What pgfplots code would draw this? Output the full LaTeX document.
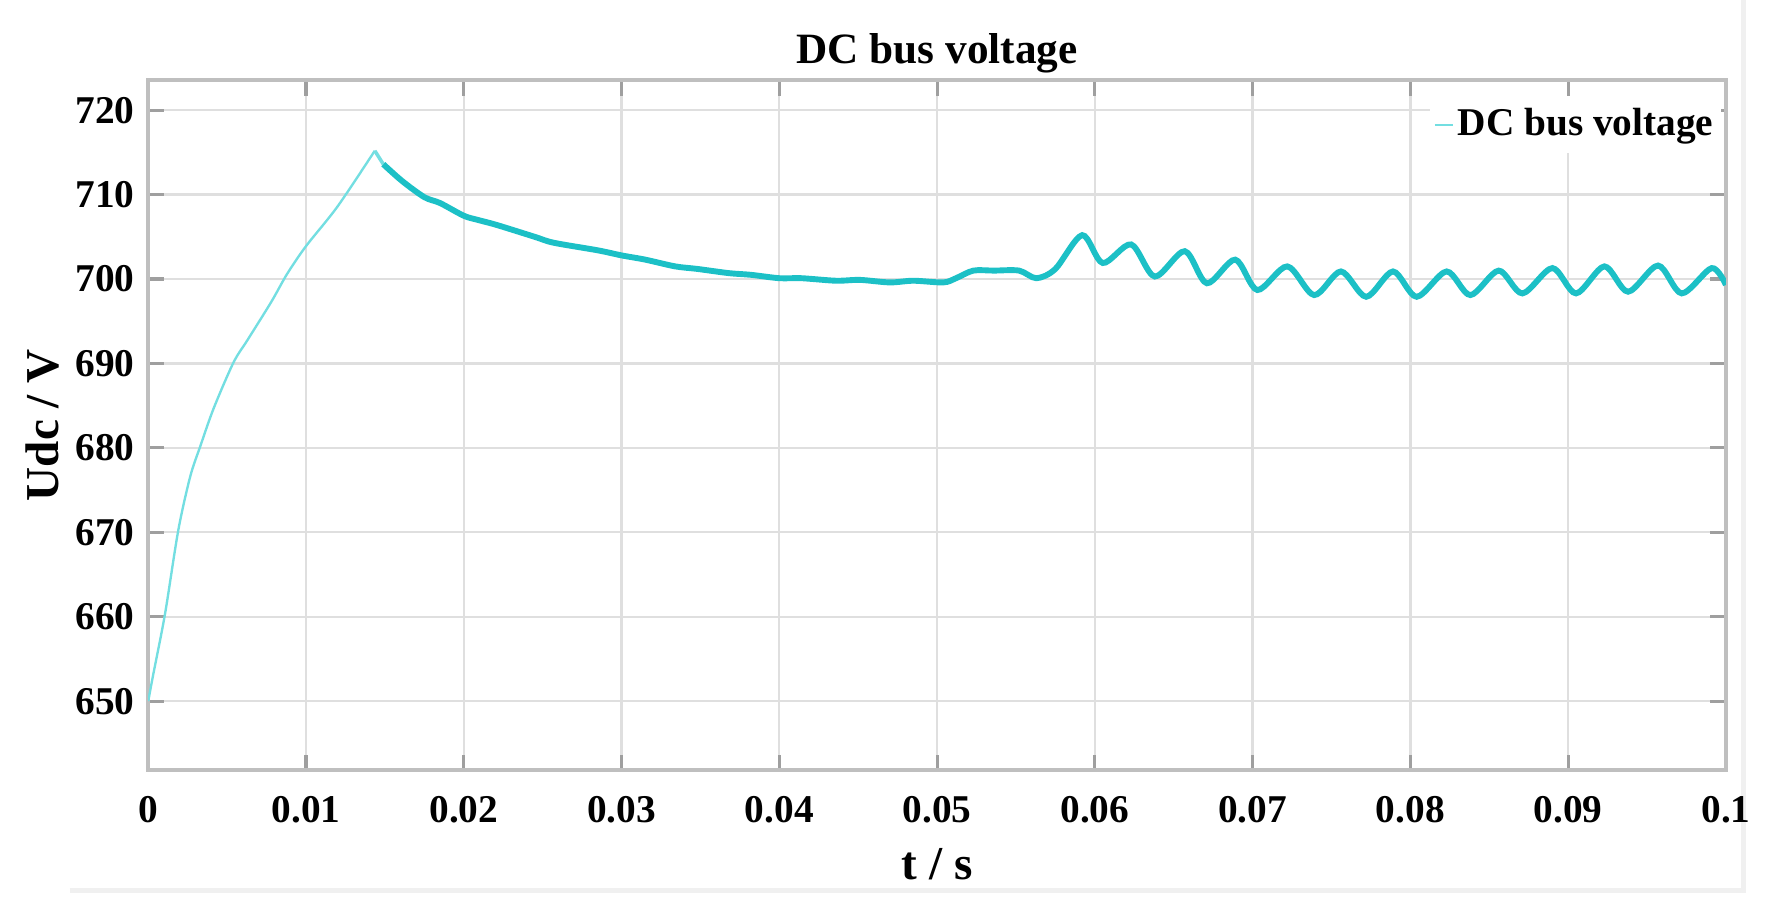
\documentclass[border=0pt]{standalone}
\usepackage{fontspec}
\setmainfont{Liberation Serif}
\usepackage{pgfplots}
\pgfplotsset{compat=1.18}
\definecolor{udcthin}{RGB}{115,222,225}
\definecolor{udc}{RGB}{28,192,198}

\begin{document}
\begin{tikzpicture}
\useasboundingbox (-37.7pt,-35.4pt) rectangle (417.5pt,195.9pt);
% faint frame of the original screenshot
\draw[gray!12, line width=1.2pt] (-20pt,-30.5pt) -- (405.6pt,-30.5pt) -- (405.6pt,195.9pt);
\begin{axis}[
  scale only axis, width=401.2pt, height=175.6pt,
  xmin=0, xmax=0.1, ymin=641.8, ymax=723.6,
  xtick={0,0.01,0.02,0.03,0.04,0.05,0.06,0.07,0.08,0.09,0.1},
  xticklabels={0,0.01,0.02,0.03,0.04,0.05,0.06,0.07,0.08,0.09,0.1},
  scaled x ticks=false,
  ytick={650,660,670,680,690,700,710,720},
  grid=major, major grid style={gray!25, line width=0.6pt},
  axis line style={gray!50, line width=1pt},
  tick style={gray!75, line width=0.8pt}, major tick length=4pt,
  tick align=inside,
  /pgf/number format/assume math mode=true,
  tick label style={font=\fontsize{10}{12}\selectfont\bfseries},
  xticklabel style={yshift=-3pt},
  title={DC bus voltage},
  every axis title shift=0pt,
  title style={at={(axis description cs:0.5,1)}, anchor=south,
    font=\fontsize{11}{13}\selectfont\bfseries, inner sep=2pt, yshift=-0.5pt},
  xlabel={t / s}, ylabel={Udc / V},
  label style={font=\fontsize{12}{14}\selectfont\bfseries},
  xlabel style={at={(axis description cs:0.5,-0.136)}, anchor=center},
  ylabel style={at={(axis description cs:-0.0673,0.5)}, anchor=center},
  legend style={at={(axis description cs:1,1)}, anchor=north east,
    xshift=-1pt, yshift=-4pt, draw=none, fill=white,
    font=\fontsize{10}{12}\selectfont\bfseries, inner sep=1pt,
    nodes={inner xsep=1pt}},
  legend image code/.code={\draw[#1] (0pt,0pt) -- (4.5pt,0pt);},
]
\addplot[udcthin, line width=0.6pt, smooth] coordinates {
  (0,650) (0.0003,653) (0.00106,660.3) (0.0019,670.2) (0.00266,676.6)
  (0.0033,680.2) (0.00415,684.7) (0.0054,690.1) (0.0063,692.8)
  (0.0078,697.3) (0.0088,700.6) (0.01,703.9) (0.012,708.6)
  (0.01436,715.2)
};
\addlegendentry{DC bus voltage}
\addplot[udcthin, line width=0.9pt, forget plot] coordinates {
  (0.01436,715.2) (0.0149,713.6)
};
\addplot[udc, line width=1.5pt, smooth, forget plot] coordinates {
  (0.0149,713.6) (0.0161,711.6) (0.0175,709.7) (0.0185,709.0) (0.020,707.5)
  (0.0209,707.0) (0.0221,706.4) (0.0245,705.0) (0.0257,704.3) (0.0285,703.4)
  (0.030,702.8) (0.0315,702.3) (0.0334,701.5) (0.0348,701.2) (0.0368,700.7)
  (0.0382,700.5) (0.040,700.1) (0.0414,700.1) (0.0436,699.8) (0.0451,699.9)
  (0.047,699.6) (0.0485,699.8) (0.0504,699.6) (0.0512,700.1) (0.0523,701.0)
  (0.0536,701.0) (0.0552,701.0) (0.0563,700.1) (0.0575,701.2) (0.0592,705.2)
  (0.0605,701.9) (0.0623,704.1) (0.0638,700.3) (0.0657,703.3) (0.0671,699.5)
  (0.0689,702.3) (0.0703,698.7) (0.0722,701.5) (0.0739,698.1) (0.0756,700.9)
  (0.0772,697.9) (0.0789,700.9) (0.0804,697.9) (0.0823,700.9) (0.0838,698.1)
  (0.0856,701.0) (0.0871,698.3) (0.0890,701.3) (0.0905,698.3) (0.0923,701.5)
  (0.0938,698.5) (0.0957,701.6) (0.0972,698.3) (0.0991,701.3) (0.1,699.3)
};
\end{axis}
\end{tikzpicture}
\end{document}
